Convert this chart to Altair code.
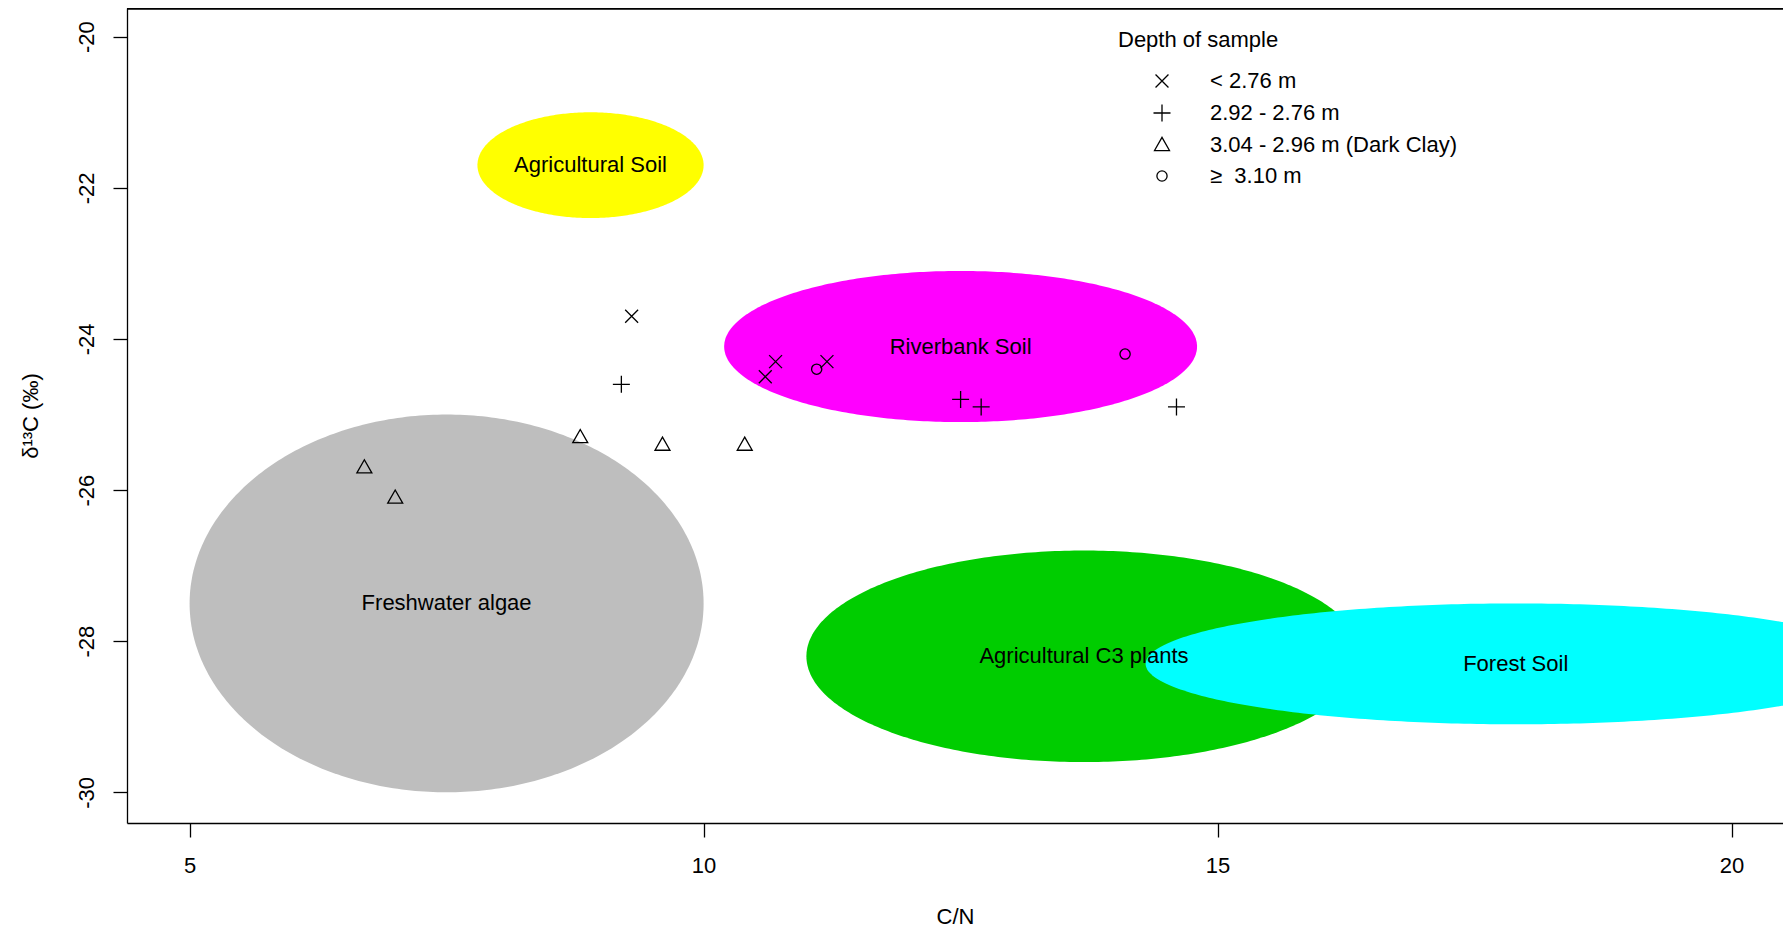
import altair as alt
import numpy as np
import pandas as pd

FONT = "Liberation Sans"

# ---- source regions (ellipses): centre and half-axes in data units ----
region_names = ["Agricultural Soil", "Riverbank Soil", "Freshwater algae",
                "Agricultural C3 plants", "Forest Soil"]
region_cx = [8.9, 12.5, 7.5, 13.7, 17.9]
region_cy = [-21.7, -24.1, -27.5, -28.2, -28.3]
region_rx = [1.1, 2.3, 2.5, 2.7, 3.6]
region_ry = [0.7, 1.0, 2.5, 1.4, 0.8]
region_colors = ["#FFFF00", "#FF00FF", "#BEBEBE", "#00CD00", "#00FFFF"]

# ---- samples ----
depth_labels = ["< 2.76 m", "2.92 - 2.76 m", "3.04 - 2.96 m (Dark Clay)", "\u2265\u00a0 3.10 m"]
sample_cn = [9.3, 10.6, 10.7, 11.2,
             9.2, 12.5, 12.7, 14.6,
             8.8, 9.6, 10.4, 6.7, 7.0,
             11.1, 14.1]
sample_d13c = [-23.7, -24.5, -24.3, -24.3,
               -24.6, -24.8, -24.9, -24.9,
               -25.3, -25.4, -25.4, -25.7, -26.1,
               -24.4, -24.2]
sample_depth = [depth_labels[0]] * 4 + [depth_labels[1]] * 4 + [depth_labels[2]] * 5 + [depth_labels[3]] * 2

x_ticks = [5, 10, 15, 20]
y_ticks = [-30, -28, -26, -24, -22, -20]

# symbol outlines (pch 4, 3, 2, 1 style)
shape_paths = [
    "M-0.76,-0.76L0.76,0.76M0.76,-0.76L-0.76,0.76",
    "M-1,0L1,0M0,-1L0,1",
    "M0,-0.9L0.88,0.65L-0.88,0.65Z",
    "M0.6,0A0.6,0.6,0,1,1,-0.6,0A0.6,0.6,0,1,1,0.6,0Z",
]

W, H = 1656, 815
LEFT = 119

xscale = alt.Scale(domain=[4.391, 4.391 + W / 102.8], nice=False, zero=False)
yscale = alt.Scale(domain=[-30.406, -19.62], nice=False, zero=False)

common_axis = dict(grid=False, tickSize=14, domainColor="black", domainWidth=1.3,
                   tickColor="black", tickWidth=1.3, labelColor="black",
                   labelFont=FONT, labelFontSize=22, titleColor="black",
                   titleFont=FONT, titleFontSize=22, titleFontWeight="normal",
                   labelExpr="'' + datum.value")

xaxis = alt.Axis(values=x_ticks, title="C/N", labelPadding=18, labelBaseline="top",
                 titleY=93, titleBaseline="middle", **common_axis)
yaxis = alt.Axis(values=y_ticks, title="\u03b4\u00b9\u00b3C  (\u2030)",
                 labelAngle=270, labelAlign="center", labelBaseline="middle",
                 labelPadding=27, titleAngle=270, titleX=-97, titleY=H / 2,
                 titleAlign="center", titleBaseline="middle", **common_axis)

X = alt.X("x:Q", scale=xscale, axis=xaxis)
Y = alt.Y("y:Q", scale=yscale, axis=yaxis)

layers = []
t = np.linspace(0, np.pi, 181)
for name, cx, cy, rx, ry, col in zip(region_names, region_cx, region_cy,
                                      region_rx, region_ry, region_colors):
    df = pd.DataFrame({
        "x": cx - rx * np.cos(t),
        "y": cy + ry * np.sin(t),
        "y2": cy - ry * np.sin(t),
    })
    layers.append(
        alt.Chart(df).mark_area(color=col, opacity=1, clip=True, interpolate="linear")
        .encode(x=X, y=Y, y2=alt.Y2("y2:Q"))
    )

labels_df = pd.DataFrame({"x": region_cx, "y": region_cy, "name": region_names})
pts_df = pd.DataFrame({"x": sample_cn, "y": sample_d13c, "depth": sample_depth})

points = alt.Chart(pts_df).mark_point(filled=False, color="black", strokeWidth=1.3,
                                      size=289, opacity=1).encode(
    x=X, y=Y,
    shape=alt.Shape("depth:N",
                    scale=alt.Scale(domain=depth_labels, range=shape_paths),
                    legend=alt.Legend(title="Depth of sample", orient="none",
                                      legendX=1110 - LEFT, legendY=22, padding=0,
                                      titleFont=FONT, titleFontSize=22,
                                      titleFontWeight="normal", titleColor="black",
                                      titlePadding=18,
                                      labelFont=FONT, labelFontSize=22, labelColor="black",
                                      labelLimit=500, labelOffset=37, symbolOffset=33,
                                      rowPadding=9, symbolSize=289, symbolStrokeWidth=1.3,
                                      symbolStrokeColor="black",
                                      symbolFillColor="transparent")),
)

texts = alt.Chart(labels_df).mark_text(font=FONT, fontSize=22, color="black",
                                       align="center", baseline="middle").encode(
    x=X, y=Y, text="name:N")

top_border = alt.Chart(labels_df).mark_rule(color="black", strokeWidth=1.3).encode(
    x=alt.value(0), x2=alt.value(W), y=alt.value(0.6))

chart = alt.layer(*layers, points, texts, top_border).properties(
    width=W, height=H,
    autosize=alt.AutoSizeParams(type="none"),
    padding={"left": LEFT, "top": 0, "right": 0, "bottom": 105},
    background="white",
).configure_view(stroke=None)

chart.save("out.html", embed_options={"renderer": "svg", "actions": False})
